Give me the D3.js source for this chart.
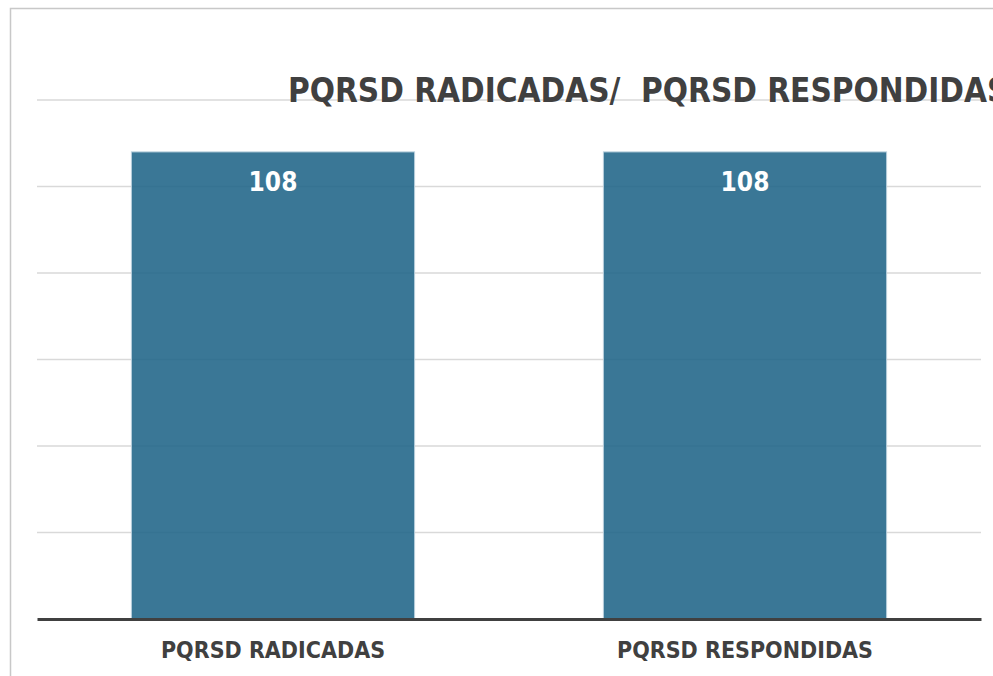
<!DOCTYPE html>
<html>
<head>
<meta charset="utf-8">
<script src="https://cdn.jsdelivr.net/npm/d3@7"></script>
<style>
  body { margin: 0; background: #fff; }
  text { font-family: "DejaVu Sans Condensed", "DejaVu Sans", sans-serif; font-weight: bold; }
</style>
</head>
<body>
<svg id="svg" width="993" height="676"></svg>
<script>
const categories = ['PQRSD RADICADAS', 'PQRSD RESPONDIDAS']
const values = [108, 108]
const yTicks = [0, 20, 40, 60, 80, 100, 120]
const title = 'PQRSD RADICADAS/  PQRSD RESPONDIDAS'

const margin = { top: 100, right: 12, bottom: 57, left: 37 }
const width = 993 - margin.left - margin.right
const height = 676 - margin.top - margin.bottom

const svg = d3.select('#svg')

// outer frame (left + top only visible)
svg.append('path')
  .attr('d', 'M10.5,676 V8.5 H993')
  .attr('fill', 'none')
  .attr('stroke', '#c8c8c8')
  .attr('stroke-width', 1.5)

const xscale = d3.scaleBand()
  .domain(categories)
  .range([margin.left, margin.left + width])
  .paddingInner(0.4)
  .paddingOuter(0.2)

const yscale = d3.scaleLinear()
  .domain([0, 120])
  .range([margin.top + height, margin.top])

// gridlines
svg.append('g')
  .selectAll('line')
  .data(yTicks.slice(1))
  .enter()
  .append('line')
  .attr('x1', margin.left)
  .attr('x2', margin.left + width)
  .attr('y1', d => yscale(d))
  .attr('y2', d => yscale(d))
  .attr('stroke', '#d9d9d9')
  .attr('stroke-width', 1.3)

// title
svg.append('text')
  .attr('x', 288)
  .attr('y', 102)
  .attr('font-size', 33)
  .attr('fill', '#404040')
  .style('white-space', 'pre')
  .text(title)

// bars
svg.append('g')
  .selectAll('rect')
  .data(values)
  .enter()
  .append('rect')
  .attr('x', (d, i) => xscale(categories[i]))
  .attr('y', d => yscale(d))
  .attr('width', xscale.bandwidth())
  .attr('height', d => yscale(0) - yscale(d))
  .attr('fill', '#1f6488')
  .attr('fill-opacity', 0.88)
  .attr('stroke', '#b8cfdc')
  .attr('stroke-width', 1)

// value labels
svg.append('g')
  .selectAll('text')
  .data(values)
  .enter()
  .append('text')
  .attr('x', (d, i) => xscale(categories[i]) + xscale.bandwidth() / 2)
  .attr('y', d => yscale(d) + 39)
  .attr('text-anchor', 'middle')
  .attr('font-size', 26)
  .attr('fill', '#ffffff')
  .text(d => d)

// x axis
const bottomAxis = d3.axisBottom(xscale).tickSize(0).tickPadding(23)
const gx = svg.append('g')
  .attr('transform', `translate(0, ${yscale(0)})`)
  .call(bottomAxis)
gx.select('.domain').attr('stroke', '#404040').attr('stroke-width', 3)
gx.selectAll('text')
  .attr('font-size', 23)
  .attr('fill', '#404040')
  .style('font-family', '"DejaVu Sans Condensed", "DejaVu Sans", sans-serif')
</script>
</body>
</html>
